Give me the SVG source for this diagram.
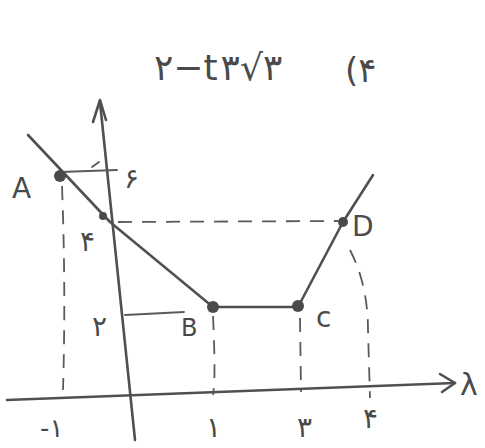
<svg xmlns="http://www.w3.org/2000/svg" width="485" height="448" viewBox="0 0 485 448">
<style>
.ln{stroke:#505050;stroke-width:2.6;fill:none;stroke-linecap:round;stroke-linejoin:round}
.th{stroke:#5a5a5a;stroke-width:1.8;fill:none;stroke-linecap:round}
.ds{stroke:#5a5a5a;stroke-width:1.8;fill:none;stroke-dasharray:14 10}
.dot{fill:#4a4a4a}
.t{font-family:"DejaVu Sans",sans-serif;fill:#4a4a4a;direction:ltr;unicode-bidi:bidi-override}
</style>
<rect width="485" height="448" fill="#ffffff"/>
<text class="t" x="154" y="80" font-size="36" letter-spacing="3">۲−t۳√۳</text>
<text class="t" x="345" y="82" font-size="34" letter-spacing="6">(۴</text>
<g id="connectors">
<path class="ln" d="M135,440 L100,102"/>
<path class="ln" d="M93,122 L100,100 L106,120"/>
<path class="ln" d="M7,400 L455,383"/>
<path class="ln" d="M440,374 L455,383 L442,392"/>
<path class="ln" d="M28,135 L110,222 L213,307 L298,307 L343,222 L373,175"/>
<path class="th" d="M60,172 L117,170"/>
<path class="th" d="M92,167 L99,162"/>
<path class="th" d="M125,315 L184,312"/>
<path class="ds" d="M118,222 L338,221"/>
<path class="ds" d="M62,186 Q66,290 63,390"/>
<path class="ds" d="M213,316 Q216,380 213,395"/>
<path class="ds" d="M300,318 L301,392"/>
<path class="ds" d="M350,250 Q368,285 368,330 L370,398"/>
</g>
<g id="A"><circle class="dot" cx="60" cy="176" r="6"/><text class="t" x="12" y="198" font-size="28">A</text></g>
<g id="K"><circle class="dot" cx="103" cy="216" r="4"/></g>
<g id="B"><circle class="dot" cx="213" cy="307" r="6"/><text class="t" x="181" y="336" font-size="24">B</text></g>
<g id="C"><circle class="dot" cx="298" cy="306" r="6"/><text class="t" x="316" y="327" font-size="28">c</text></g>
<g id="D"><circle class="dot" cx="343" cy="222" r="5"/><text class="t" x="352" y="236" font-size="28">D</text></g>
<g id="labels">
<text class="t" x="124" y="188" font-size="28">۶</text>
<text class="t" x="80" y="251" font-size="28">۴</text>
<text class="t" x="92" y="336" font-size="28">۲</text>
<text class="t" x="40" y="437" font-size="26">-۱</text>
<text class="t" x="206" y="437" font-size="28">۱</text>
<text class="t" x="297" y="437" font-size="28">۳</text>
<text class="t" x="363" y="428" font-size="28">۴</text>
<text class="t" x="460" y="395" font-size="30">λ</text>
</g>
</svg>
